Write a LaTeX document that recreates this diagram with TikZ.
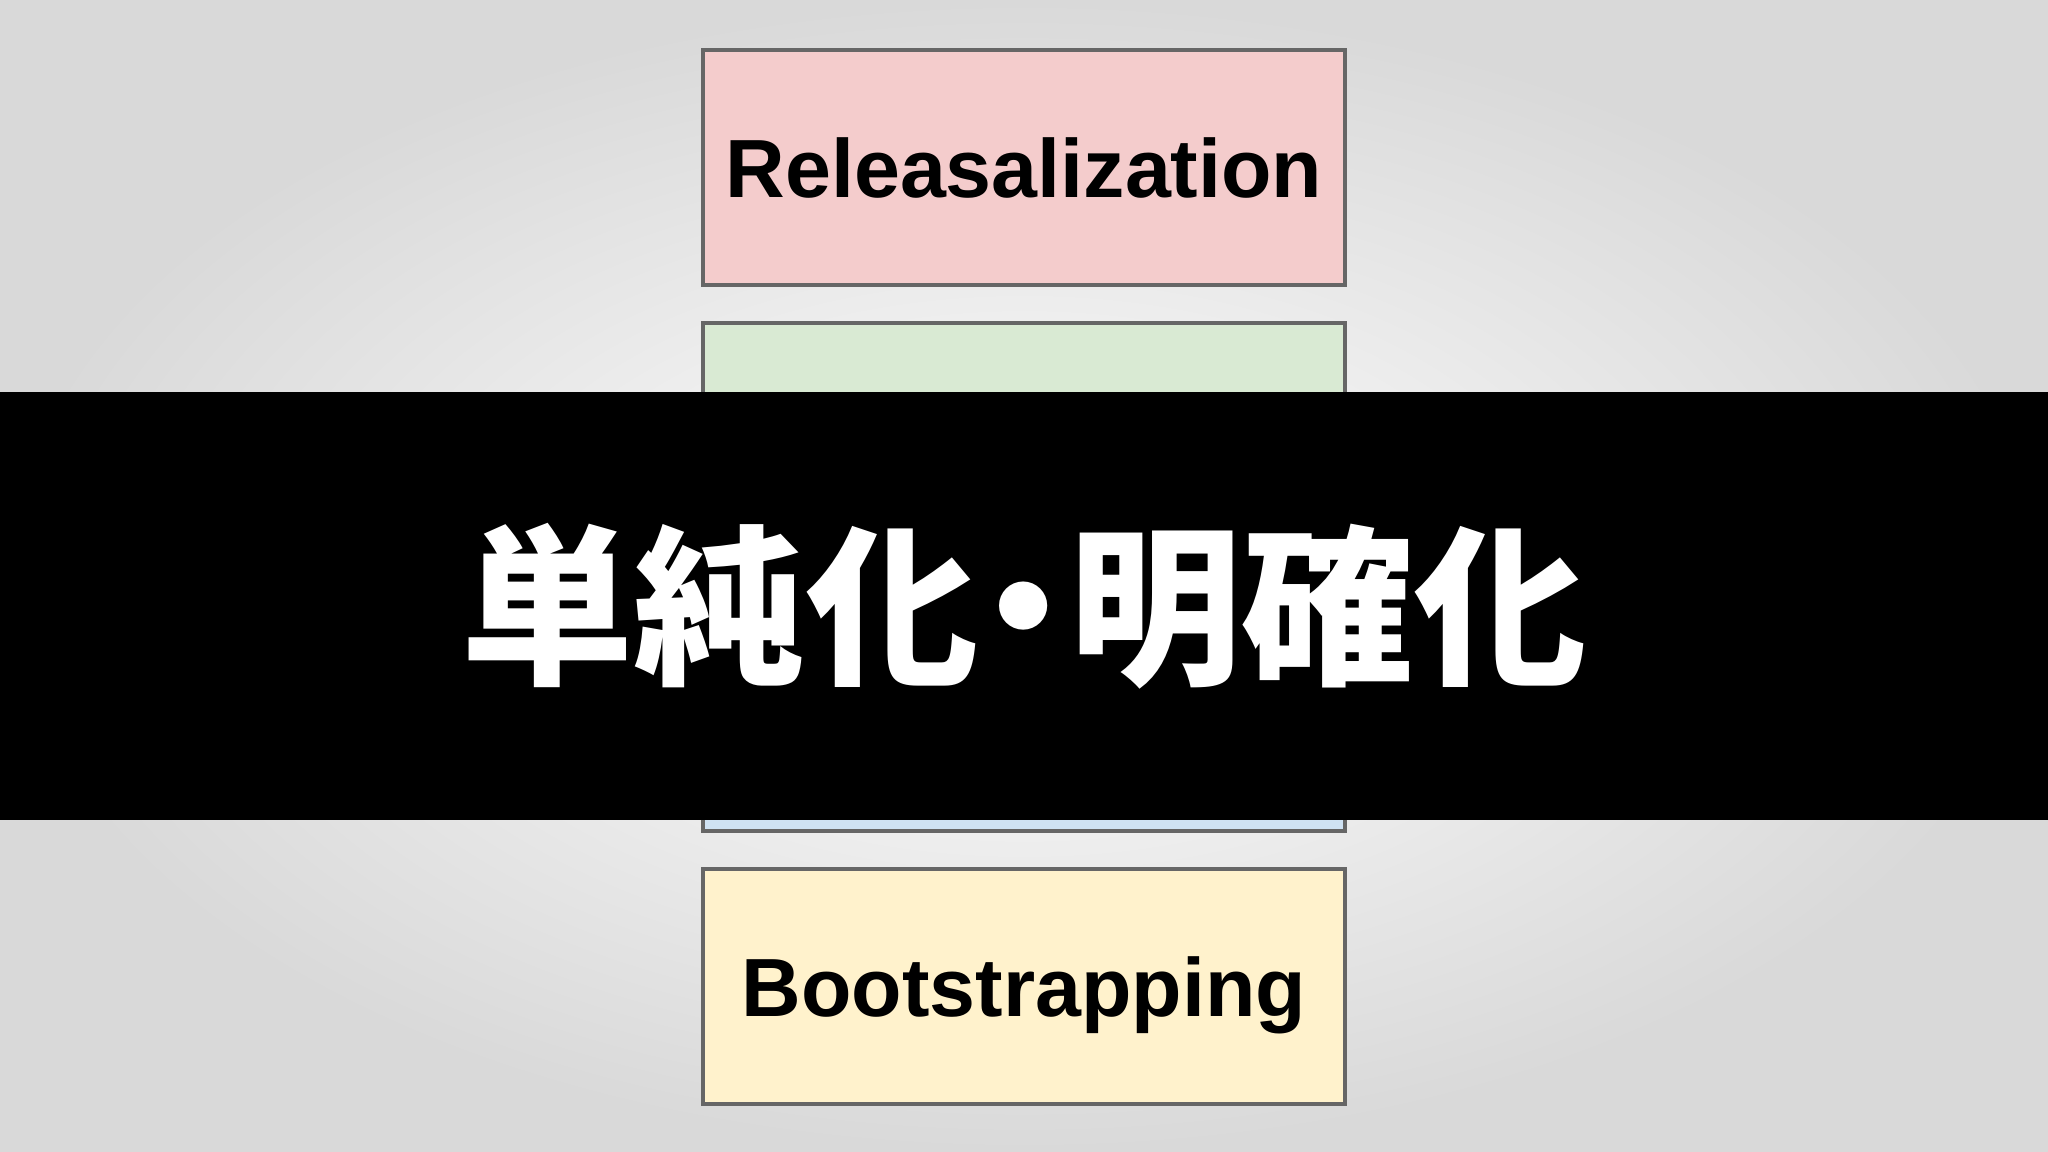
\documentclass[tikz,border=0pt]{standalone}
\usepackage{fontspec}
\setmainfont{Liberation Sans}
\newfontfamily\jpfont{Noto Sans CJK JP}
\usepackage{tikz}
\usetikzlibrary{
  positioning} % for below=of
\definecolor{bggray}{HTML}{D9D9D9}
\definecolor{edgegray}{HTML}{666666}
\definecolor{pinkfill}{HTML}{F4CCCC}
\definecolor{greenfill}{HTML}{D9EAD3}
\definecolor{bluefill}{HTML}{CFE2F3}
\definecolor{yellowfill}{HTML}{FFF2CC}
\tikzstyle{stage} = [draw=edgegray, line width=1pt, minimum width=6.42cm, minimum height=2.35cm,
  text height=16.8pt, text depth=0pt, font=\bfseries\fontsize{23.5}{28}\selectfont]
\tikzstyle{band} = [fill=black, text=white, inner sep=0pt, minimum width=20.48cm, minimum height=4.28cm,
  font=\jpfont\bfseries\fontsize{49}{56}\selectfont]

\begin{document}
\begin{tikzpicture}[ node distance=3.45mm ]
\useasboundingbox (0,0) rectangle (20.48,11.52);
\shade[inner color=white, outer color=bggray] (0,0) rectangle (20.48,11.52);

\node[stage, fill=pinkfill] (release) at (10.24,9.845) {Releasalization};
\node[stage, fill=greenfill, below=of release] (second) {};
\node[stage, fill=bluefill, below=of second] (third) {};
\node[stage, fill=yellowfill, below=of third] (boot) {Bootstrapping};

\node[band] (title) at (10.24,5.46) {単純化\makebox[0.53em]{・}明確化};

\end{tikzpicture}
\end{document}
